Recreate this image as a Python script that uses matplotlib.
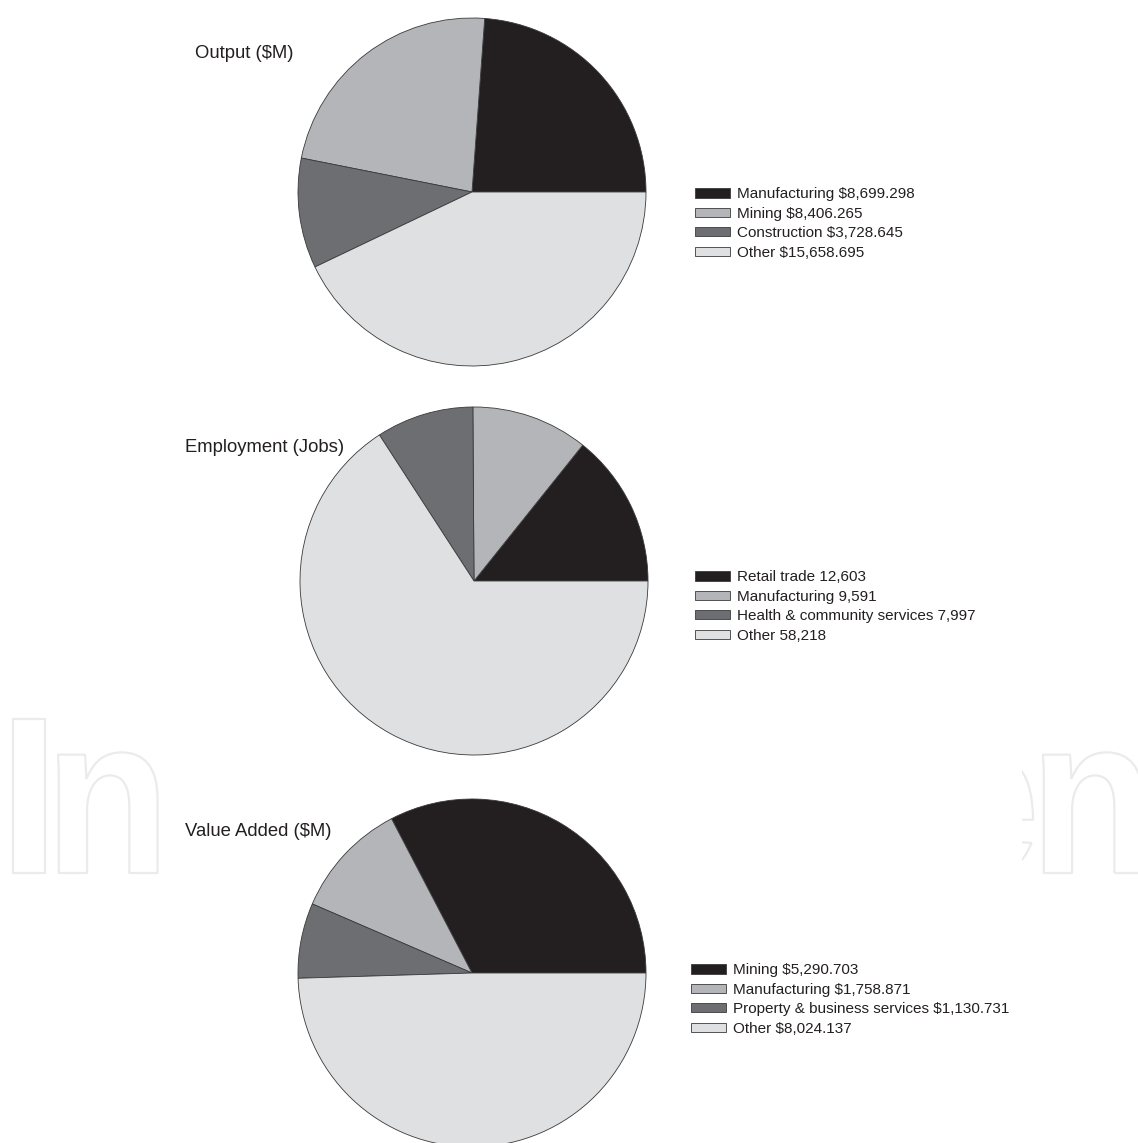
import numpy as np
import matplotlib
matplotlib.use('Agg')
import matplotlib.pyplot as plt
from matplotlib.textpath import TextPath
from matplotlib.font_manager import FontProperties
from matplotlib.patches import PathPatch, Rectangle
from matplotlib.transforms import Affine2D

plt.rcParams['font.family'] = ['Liberation Sans', 'DejaVu Sans']

# ---- data ----
output_labels = ['Manufacturing $8,699.298', 'Mining $8,406.265',
                 'Construction $3,728.645', 'Other $15,658.695']
output_values = [8699.298, 8406.265, 3728.645, 15658.695]

jobs_labels = ['Retail trade 12,603', 'Manufacturing 9,591',
               'Health & community services 7,997', 'Other 58,218']
jobs_values = [12603, 9591, 7997, 58218]

va_labels = ['Mining $5,290.703', 'Manufacturing $1,758.871',
             'Property & business services $1,130.731', 'Other $8,024.137']
va_values = [5290.703, 1758.871, 1130.731, 8024.137]

titles = ['Output ($M)', 'Employment (Jobs)', 'Value Added ($M)']

COLORS = ['#231f20', '#b4b5b8', '#6d6e71', '#dfe0e2']

W, H = 1138, 1143
fig = plt.figure(figsize=(W / 100, H / 100), dpi=100)

# background axes in pixel coords for the faint watermark
bg = fig.add_axes([0, 0, 1, 1], zorder=-5)
bg.set_xlim(0, W)
bg.set_ylim(H, 0)
bg.axis('off')

fp = FontProperties(family='Liberation Sans', weight='bold')
wm_col = '#ebebeb'


def glyph(ch, left=None, right=None, base=873, size=224, sx=1.0, clip=None):
    # outlined letter placed by its bounding box, baseline in pixels
    tp = TextPath((0, 0), ch, size=size, prop=fp)
    ext = tp.get_extents()
    x0 = left - ext.x0 * sx if left is not None else right - ext.x1 * sx
    tr = Affine2D().scale(sx, -1).translate(x0, base) + bg.transData
    pp = PathPatch(tp, transform=tr, fill=False, edgecolor=wm_col,
                   lw=1.6, joinstyle='round')
    bg.add_patch(pp)
    if clip is not None:
        r = Rectangle(clip[:2], clip[2], clip[3], transform=bg.transData,
                      visible=False)
        bg.add_patch(r)
        pp.set_clip_path(r)


glyph('I', left=13)
glyph('n', left=58, sx=0.92)
glyph('e', right=1033, sx=0.92, clip=(1022, 700, 200, 250))
glyph('n', left=1043, sx=0.92)

# (center x, center y, legend left, legend middle y, title x, title y)
layout = [
    (472, 192, 695, 223.5, 195, 53),
    (474, 581, 695, 606.5, 185, 448),
    (472, 973, 691, 999.5, 185, 831),
]
R = 174
datasets = [(output_values, output_labels),
            (jobs_values, jobs_labels),
            (va_values, va_labels)]

for (vals, labs), title, (cx, cy, lx, ly, tx, ty) in zip(datasets, titles, layout):
    ax = fig.add_axes([(cx - R) / W, (H - cy - R) / H, 2 * R / W, 2 * R / H])
    wedges, _ = ax.pie(vals, colors=COLORS, startangle=0, counterclock=True,
                       wedgeprops=dict(edgecolor='#3a3a3a', linewidth=0.6))
    ax.set_xlim(-1, 1)
    ax.set_ylim(-1, 1)
    ax.set_aspect('auto')
    fig.text(tx / W, 1 - ty / H, title, fontsize=13.3, va='center', ha='left',
             color='#231f20')
    ax.legend(wedges, labs, loc='center left',
              bbox_to_anchor=(lx / W, 1 - ly / H), bbox_transform=fig.transFigure,
              frameon=False, fontsize=11, borderpad=0, borderaxespad=0,
              handlelength=2.3, handleheight=0.55, handletextpad=0.45,
              labelspacing=0.35, labelcolor='#231f20')

fig.savefig('out.png', dpi=100, facecolor='white')
